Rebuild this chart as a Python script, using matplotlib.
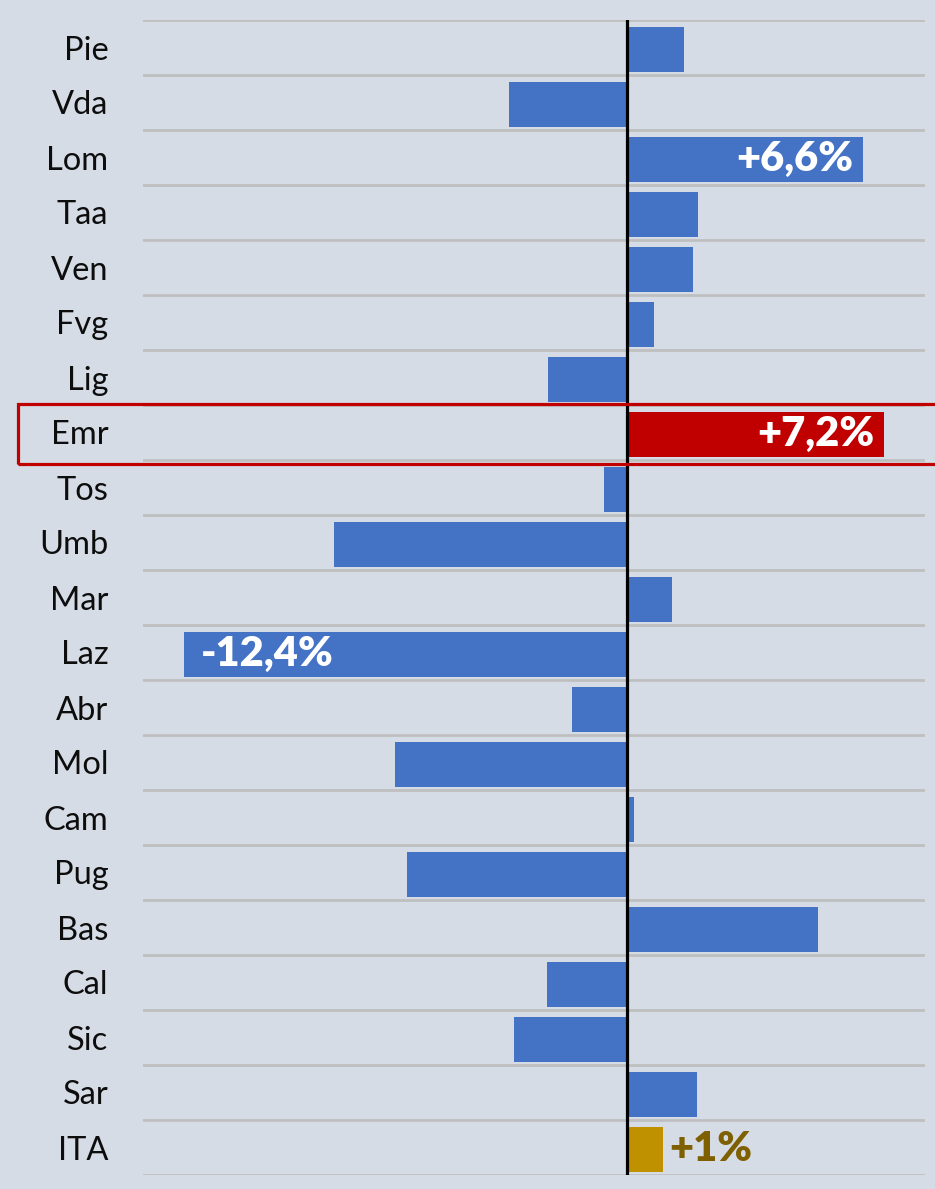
import matplotlib
matplotlib.use("Agg")
import matplotlib.pyplot as plt
from matplotlib.patches import Rectangle

regions = ["Pie", "Vda", "Lom", "Taa", "Ven", "Fvg", "Lig", "Emr", "Tos", "Umb", "Mar",
           "Laz", "Abr", "Mol", "Cam", "Pug", "Bas", "Cal", "Sic", "Sar", "ITA"]
values = [1.6, -3.3, 6.6, 2.0, 1.85, 0.75, -2.2, 7.2, -0.65, -8.2, 1.25,
          -12.4, -1.55, -6.5, 0.2, -6.15, 5.35, -2.25, -3.15, 1.95, 1.0]
highlight = "Emr"
total = "ITA"
labels = {"Lom": "+6,6%", "Emr": "+7,2%", "Laz": "-12,4%", "ITA": "+1%"}

BG = "#D6DCE5"
BLUE = "#4472C4"
RED = "#C00000"
GOLD = "#BF9000"
DARKGOLD = "#7F6000"

plt.rcParams['font.family'] = ['Lato', 'DejaVu Sans']

W, H = 935, 1189
fig = plt.figure(figsize=(W / 100, H / 100), dpi=100, facecolor=BG)
ax = fig.add_axes([143 / W, 14 / H, (925 - 143) / W, 1155 / H])
ax.set_facecolor(BG)

colors = []
for r in regions:
    if r == highlight:
        colors.append(RED)
    elif r == total:
        colors.append(GOLD)
    else:
        colors.append(BLUE)

ypos = list(range(len(regions)))
ax.barh([y + 0.03 for y in ypos], values, height=0.82, color=colors, zorder=3)

for k in range(len(regions) + 1):
    ax.axhline(k - 0.5, color="#BFBFBF", lw=2.0, zorder=1)
ax.axvline(0, color="black", lw=2.3, zorder=4)

ax.set_xlim(-13.54, 8.34)
ax.set_ylim(len(regions) - 0.5, -0.5)
ax.set_xticks([])
ax.set_yticks(ypos)
ax.set_yticklabels(regions, fontsize=23.5, color="#0d0d0d")
ax.tick_params(axis="y", length=0, pad=25)
for s in ax.spines.values():
    s.set_visible(False)

for r, txt in labels.items():
    i = regions.index(r) + 0.03
    v = values[regions.index(r)]
    if r == total:
        ax.annotate(txt, (v, i), xytext=(5, 0), textcoords="offset points",
                    ha="left", va="center", fontsize=30, fontweight="heavy",
                    color=DARKGOLD, zorder=5)
    elif v >= 0:
        ax.annotate(txt, (v, i), xytext=(-7, 0), textcoords="offset points",
                    ha="right", va="center", fontsize=30, fontweight="heavy",
                    color="white", zorder=5)
    else:
        ax.annotate(txt, (v, i), xytext=(12, 0), textcoords="offset points",
                    ha="left", va="center", fontsize=30, fontweight="heavy",
                    color="white", zorder=5)

# highlight frame around Emr row
fig.add_artist(Rectangle((18 / W, (H - 464) / H), (W - 18 + 10) / W, 60 / H,
                         transform=fig.transFigure, fill=False, edgecolor=RED,
                         lw=2.3, zorder=10))

fig.savefig("out.png", dpi=100, facecolor=BG)
